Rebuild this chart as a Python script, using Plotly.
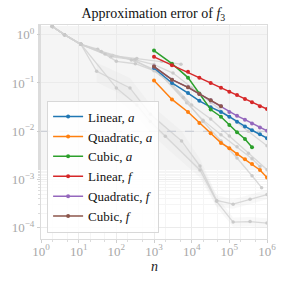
import plotly.graph_objects as go

# ---- data ----
n_grid = [1000, 3000, 8000, 16000, 32000, 60000, 100000, 160000, 260000, 400000, 650000, 1000000]

lin_a = [0.204, 0.100, 0.0617, 0.0427, 0.0316, 0.0251, 0.0200, 0.0158, 0.0126, 0.0105, 0.0087, 0.0072]
quad_a = [0.112, 0.0457, 0.0251, 0.0148, 0.00912, 0.00575, 0.00447, 0.00339, 0.00263, 0.00209, 0.00158, 0.00110]
cub_a = [0.468, 0.251, 0.129, 0.0603, 0.0282, 0.0200, 0.0135, 0.00955, 0.00692, 0.00468]
lin_f = [0.347, 0.234, 0.170, 0.129, 0.100, 0.0794, 0.0661, 0.0562, 0.0468, 0.0398, 0.0331, 0.0288]
quad_f = [0.219, 0.117, 0.0813, 0.0589, 0.0437, 0.0331, 0.0251, 0.0209, 0.0174, 0.0145, 0.0120, 0.0102]
cub_f = [0.219, 0.117, 0.0813, 0.0589, 0.0437, 0.0331]

series_names = ["Linear, <i>a</i>", "Quadratic, <i>a</i>", "Cubic, <i>a</i>",
                "Linear, <i>f</i>", "Quadratic, <i>f</i>", "Cubic, <i>f</i>"]
series_vals = [lin_a, quad_a, cub_a, lin_f, quad_f, cub_f]
series_colors = ["#1f77b4", "#ff7f0e", "#2ca02c", "#d62728", "#9467bd", "#8c564b"]

# background (gray) runs
gray_n = [
    [2, 4.2, 11.5, 80, 350, 1600, 5200],
    [2, 4.2, 11.5, 70, 320, 1000, 3200, 10000, 32000, 100000, 320000, 1000000],
    [2, 4.2, 11.5, 32, 100, 320, 1000, 3200, 10000, 32000, 100000, 320000, 1000000],
    [2, 4.2, 11.5, 30, 230, 800, 5400, 16600, 46000, 126000, 355000, 1000000],
    [2, 4.2, 11.5, 100, 350, 800, 2000, 16600, 46000, 126000, 355000, 1000000],
    [2, 4.2, 11.5, 50, 300, 1500, 7400, 20000, 60000, 160000, 400000, 650000],
    [2, 4.2, 11.5, 40, 250, 1200, 6000, 20000, 60000, 160000, 400000, 720000],
]
gray_err = [
    [1.48, 1.0, 0.63, 0.37, 0.32, 0.28, 0.245],
    [1.48, 1.0, 0.63, 0.35, 0.30, 0.24, 0.16, 0.079, 0.040, 0.020, 0.010, 0.005],
    [1.48, 1.0, 0.63, 0.50, 0.28, 0.25, 0.18, 0.09, 0.035, 0.018, 0.008, 0.0035, 0.0016],
    [1.48, 1.0, 0.63, 0.174, 0.079, 0.0224, 0.0063, 0.0019, 0.00037, 0.00031, 0.00039, 0.00049],
    [1.48, 1.0, 0.63, 0.079, 0.035, 0.016, 0.0079, 0.00158, 0.000355, 0.000132, 0.000135, 0.000126],
    [1.48, 1.0, 0.63, 0.40, 0.30, 0.15, 0.039, 0.017, 0.0085, 0.0048, 0.0027, 0.00186],
    [1.48, 1.0, 0.63, 0.45, 0.30, 0.18, 0.050, 0.016, 0.0063, 0.0028, 0.0012, 0.00068],
]
band_lo = [0.6, 0.6, 0.6, 0.6, 0.7, 0.75, 0.8, 0.8, 0.8]
band_hi = [1.5, 1.6, 1.6, 1.6, 1.4, 1.3, 1.25, 1.25, 1.25]

threshold = 1e-2
x_ext = [1, 1e6]

x_ticks = [1, 10, 100, 1000, 1e4, 1e5, 1e6]
x_labels = ["10<sup>0</sup>", "10<sup>1</sup>", "10<sup>2</sup>", "10<sup>3</sup>",
            "10<sup>4</sup>", "10<sup>5</sup>", "10<sup>6</sup>"]
y_ticks = [1e-4, 1e-3, 1e-2, 1e-1, 1]
y_labels = ["10<sup>−4</sup>", "10<sup>−3</sup>", "10<sup>−2</sup>", "10<sup>−1</sup>", "10<sup>0</sup>"]

FONT = "Liberation Serif"

fig = go.Figure()

# shaded bands around the lowest gray runs
for gi in (3, 4):
    xs = gray_n[gi][3:]
    lo = [v * f for v, f in zip(gray_err[gi][3:], band_lo)]
    hi = [v * f for v, f in zip(gray_err[gi][3:], band_hi)]
    fig.add_trace(go.Scatter(x=xs + xs[::-1], y=hi + lo[::-1], mode="lines", fill="toself",
                             fillcolor="rgba(220,220,220,0.2)", line=dict(width=0),
                             hoverinfo="skip", showlegend=False))

for xs, ys in zip(gray_n, gray_err):
    fig.add_trace(go.Scatter(x=xs, y=ys, mode="lines+markers",
                             line=dict(color="rgba(210,210,210,0.85)", width=1.3),
                             marker=dict(size=3.5, color="rgba(200,200,200,0.9)"),
                             showlegend=False, hoverinfo="skip"))

fig.add_trace(go.Scatter(x=x_ext, y=[threshold, threshold], mode="lines",
                         line=dict(color="#c4c8d0", width=1, dash="dash"),
                         showlegend=False, hoverinfo="skip"))

for name, vals, col in zip(series_names, series_vals, series_colors):
    fig.add_trace(go.Scatter(x=n_grid[:len(vals)], y=vals, mode="lines+markers", name=name,
                             line=dict(color=col, width=1.5),
                             marker=dict(size=4, color=col)))

axis_common = dict(type="log", showline=True, mirror=True, linecolor="#dcdcdc", linewidth=1,
                   gridcolor="#ebebeb", gridwidth=1, ticks="outside", ticklen=3,
                   tickcolor="#cfcfcf", zeroline=False, automargin=False,
                   tickfont=dict(family=FONT, size=13, color="#a8a8a8"),
                   minor=dict(showgrid=True, gridcolor="#f5f5f5", ticks="outside",
                              ticklen=2, tickcolor="#dcdcdc"))

fig.update_xaxes(range=[0, 6], tickvals=x_ticks, ticktext=x_labels, ticklabelstandoff=-3,
                 **axis_common)
fig.update_yaxes(range=[-4.23, 0.2], tickvals=y_ticks, ticktext=y_labels, **axis_common)

fig.add_annotation(text="<i>n</i>", xref="paper", yref="paper", x=0.5, y=-0.128,
                   xanchor="center", yanchor="middle", showarrow=False,
                   font=dict(family=FONT, size=14, color="#222"))

fig.update_layout(
    width=284, height=284,
    margin=dict(l=41, r=17, t=25, b=45, autoexpand=False),
    paper_bgcolor="white", plot_bgcolor="white",
    title=dict(text="Approximation error of <i>f</i><sub>3</sub>", x=0.54, xanchor="center",
               y=0.955, yanchor="middle", font=dict(family=FONT, size=14, color="#111")),
    font=dict(family=FONT),
    legend=dict(x=0.027, y=0.03, xanchor="left", yanchor="bottom",
                bgcolor="rgba(255,255,255,0.85)", bordercolor="#d8d8d8", borderwidth=1,
                font=dict(family=FONT, size=13, color="#111"),
                tracegroupgap=0, itemwidth=30),
    showlegend=True,
)

fig.write_html("out.html", config={"displayModeBar": False},
               post_script="document.body.style.margin='0px';")
